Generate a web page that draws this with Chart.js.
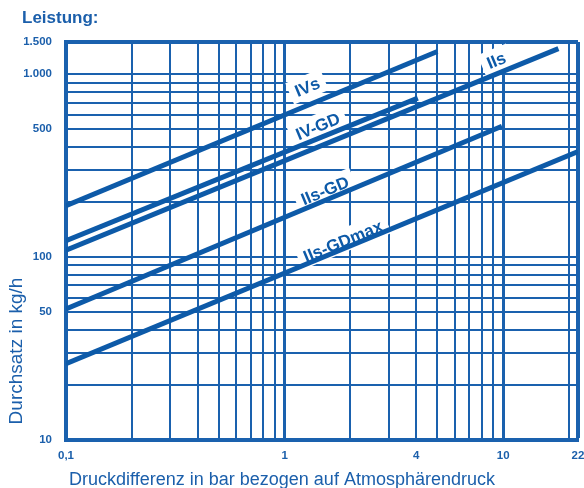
<!DOCTYPE html>
<html>
<head>
<meta charset="utf-8">
<script src="https://cdn.jsdelivr.net/npm/chart.js@4.4.1/dist/chart.umd.min.js"></script>
<style>
  html, body { margin: 0; padding: 0; background: #fff; }
  #wrap { width: 584px; height: 488px; }
</style>
</head>
<body>
<div id="wrap"><canvas id="c" width="584" height="488"></canvas></div>
<script>
// Throughput curves (kg/h) against pressure difference (bar), two end points each
const seriesNames = ['IVs', 'IV-GD', 'IIs', 'IIs-GD', 'IIs-GDmax'];
const pressureIVs = [0.1, 5.0];
const flowIVs = [191, 1330];
const pressureIVGD = [0.1, 4.07];
const flowIVGD = [123, 740];
const pressureIIs = [0.1, 17.9];
const flowIIs = [109, 1380];
const pressureIIsGD = [0.1, 9.87];
const flowIIsGD = [52, 519];
const pressureIIsGDmax = [0.1, 22];
const flowIIsGDmax = [26.1, 378];

// Curve name anchors (pressure, flow)
const labelPressure = [1.27, 1.42, 9.3, 1.53, 1.85];
const labelFlow = [850, 519, 1190, 231, 122];

// Grid lines and the text shown at some of them
const xGridValues = [0.1, 0.2, 0.3, 0.4, 0.5, 0.6, 0.7, 0.8, 0.9, 1, 2, 3, 4, 5, 6, 7, 8, 9, 10, 20, 22];
const xGridText = ['0,1', '', '', '', '', '', '', '', '', '1', '', '', '4', '', '', '', '', '', '10', '', '22'];
const yGridValues = [10, 20, 30, 40, 50, 60, 70, 80, 90, 100, 200, 300, 400, 500, 600, 700, 800, 900, 1000, 1500];
const yGridText = ['10', '', '', '', '50', '', '', '', '', '100', '', '', '', '500', '', '', '', '', '1.000', '1.500'];

const BLUE = '#0d5aa8';
const GRID = '#1a61ae';
const TEXT = '#1b5fab';
const FONT = '"Liberation Sans", Arial, sans-serif';

function toPoints(xs, ys) { return xs.map((x, i) => ({ x: x, y: ys[i] })); }

const seriesData = [
  toPoints(pressureIVs, flowIVs),
  toPoints(pressureIVGD, flowIVGD),
  toPoints(pressureIIs, flowIIs),
  toPoints(pressureIIsGD, flowIIsGD),
  toPoints(pressureIIsGDmax, flowIIsGDmax)
];

const curveLabels = {
  id: 'curveLabels',
  _geom(chart) {
    const xs = chart.scales.x, ys = chart.scales.y;
    const d = seriesData[4];
    const dx = xs.getPixelForValue(d[1].x) - xs.getPixelForValue(d[0].x);
    const dy = ys.getPixelForValue(d[1].y) - ys.getPixelForValue(d[0].y);
    const angle = Math.atan2(dy, dx);
    return seriesNames.map((name, i) => ({
      name: name,
      px: xs.getPixelForValue(labelPressure[i]),
      py: ys.getPixelForValue(labelFlow[i]),
      angle: angle
    }));
  },
  beforeDatasetsDraw(chart) {
    const ctx = chart.ctx;
    ctx.save();
    ctx.font = 'bold 17px ' + FONT;
    this._geom(chart).forEach(g => {
      const w = ctx.measureText(g.name).width;
      ctx.save();
      ctx.translate(g.px, g.py);
      ctx.rotate(g.angle);
      ctx.fillStyle = '#ffffff';
      ctx.fillRect(-w / 2 - 6, -12, w + 12, 23);
      ctx.restore();
    });
    ctx.restore();
  },
  afterDatasetsDraw(chart) {
    const ctx = chart.ctx;
    ctx.save();
    ctx.font = 'bold 17px ' + FONT;
    ctx.fillStyle = BLUE;
    ctx.textAlign = 'center';
    ctx.textBaseline = 'middle';
    this._geom(chart).forEach(g => {
      ctx.save();
      ctx.translate(g.px, g.py);
      ctx.rotate(g.angle);
      ctx.fillText(g.name, 0, 1);
      ctx.restore();
    });
    ctx.restore();
  },
  afterDraw(chart) {
    const ctx = chart.ctx;
    ctx.save();
    ctx.fillStyle = TEXT;
    ctx.textBaseline = 'alphabetic';
    ctx.font = 'bold 17px ' + FONT;
    ctx.textAlign = 'left';
    ctx.fillText('Leistung:', 22, 23);
    ctx.font = '18px ' + FONT;
    ctx.textAlign = 'center';
    ctx.fillText('Druckdifferenz in bar bezogen auf Atmosphärendruck', 282, 485);
    ctx.font = '19px ' + FONT;
    ctx.translate(22, 351);
    ctx.rotate(-Math.PI / 2);
    ctx.fillText('Durchsatz in kg/h', 0, 0);
    ctx.restore();
  }
};

new Chart(document.getElementById('c'), {
  type: 'line',
  data: {
    datasets: seriesData.map((pts, i) => ({
      label: seriesNames[i],
      data: pts,
      borderColor: BLUE,
      borderWidth: 5,
      pointRadius: 0,
      fill: false,
      tension: 0
    }))
  },
  options: {
    responsive: false,
    animation: false,
    events: [],
    layout: { padding: { top: 42, right: 6, bottom: 0, left: 0 } },
    plugins: { legend: { display: false }, tooltip: { enabled: false }, title: { display: false } },
    scales: {
      x: {
        type: 'logarithmic',
        min: 0.1,
        max: 22,
        afterBuildTicks(scale) { scale.ticks = xGridValues.map(v => ({ value: v })); },
        afterTickToLabelConversion(scale) {
          scale.ticks.forEach((t, i) => { t.label = xGridText[i]; });
        },
        afterFit(scale) { scale.height = 48; scale.paddingLeft = 0; scale.paddingRight = 0; },
        grid: {
          color: GRID,
          drawTicks: false,
          lineWidth: c => {
            const v = c.tick ? c.tick.value : 0;
            if (v === 22) return 4;
            if (v === 1 || v === 10) return 3;
            return 2;
          }
        },
        border: { color: GRID, width: 4 },
        ticks: {
          autoSkip: false,
          maxRotation: 0,
          minRotation: 0,
          padding: 9,
          color: TEXT,
          font: { family: FONT, size: 11.5, weight: 'bold' }
        }
      },
      y: {
        type: 'logarithmic',
        min: 10,
        max: 1500,
        afterBuildTicks(scale) { scale.ticks = yGridValues.map(v => ({ value: v })); },
        afterTickToLabelConversion(scale) {
          scale.ticks.forEach((t, i) => { t.label = yGridText[i]; });
        },
        afterFit(scale) { scale.width = 66; scale.paddingTop = 0; scale.paddingBottom = 0; },
        grid: {
          color: GRID,
          drawTicks: false,
          lineWidth: c => {
            const v = c.tick ? c.tick.value : 0;
            if (v === 1500) return 4;
            return 2;
          }
        },
        border: { color: GRID, width: 4 },
        ticks: {
          autoSkip: false,
          padding: 14,
          color: TEXT,
          font: { family: FONT, size: 11.5, weight: 'bold' }
        }
      }
    }
  },
  plugins: [curveLabels]
});
</script>
</body>
</html>
